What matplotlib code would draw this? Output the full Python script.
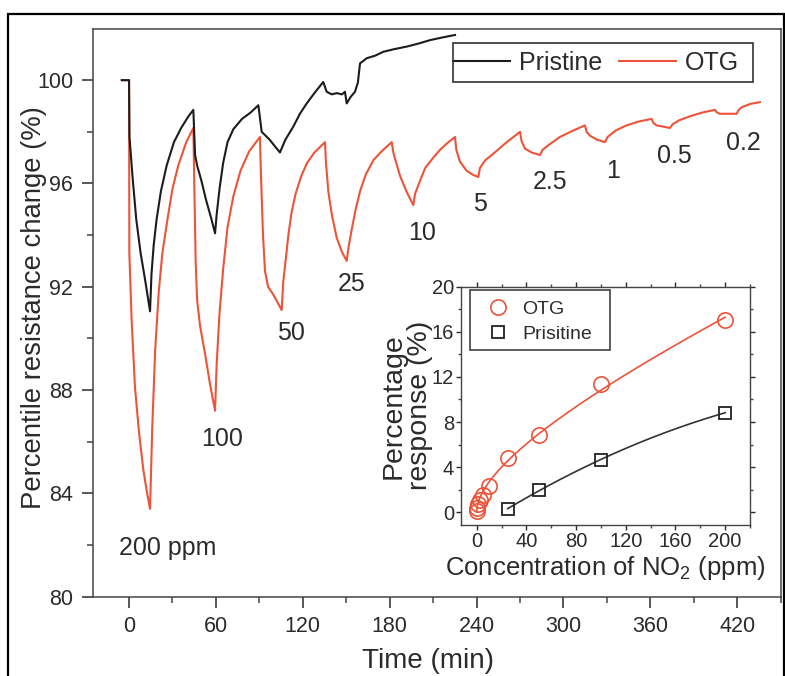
import numpy as np
import matplotlib
matplotlib.use("Agg")
import matplotlib.pyplot as plt
from matplotlib.patches import Rectangle
from matplotlib.ticker import MultipleLocator

plt.rcParams["font.family"] = ["Liberation Sans", "DejaVu Sans"]
plt.rcParams["mathtext.fontset"] = "custom"
plt.rcParams["mathtext.rm"] = "Liberation Sans"
plt.rcParams["mathtext.it"] = "Liberation Sans:italic"

RED = "#ee5338"
BLACK = "#1c1c1c"
TEXT = "#2b2b2b"
SPINE = "#444444"

# Transient response of the pristine film (time in min, resistance in %)
pristine_t = [-5, 0, 0.3, 2.5, 5, 8, 11, 14.5,
              15.5, 17, 19, 22, 26, 31, 36, 41, 44.4,
              45.6, 47, 50, 53, 56.5, 59.4,
              60.5, 62.5, 65, 68, 72, 78, 84, 89.3,
              91.6, 97, 104.2, 108, 113.4, 118, 122.7, 128, 134.1,
              136.5, 140, 143.4, 147, 149.1, 150.3, 153, 156, 158, 159.5,
              164.1, 170, 175.6, 183, 191.7, 200, 207.8, 216, 225.1]
pristine_r = [100, 100, 97.8, 96.2, 94.6, 93.3, 92.3, 91.05,
              92.5, 93.6, 94.6, 95.7, 96.7, 97.6, 98.15, 98.6, 98.85,
              97.1, 96.7, 96.1, 95.4, 94.7, 94.07,
              94.8, 95.8, 96.8, 97.6, 98.1, 98.5, 98.75, 99.03,
              98.0, 97.7, 97.2, 97.7, 98.2, 98.7, 99.1, 99.5, 99.93,
              99.55, 99.45, 99.5, 99.45, 99.55, 99.1, 99.35, 99.55, 99.9, 100.65,
              100.85, 100.95, 101.1, 101.2, 101.3, 101.42, 101.55, 101.65, 101.75]

# Transient response of the OTG film
otg_t = [-5, 0, 0.2, 1.8, 4.1, 7, 9.9, 12.5, 14.5,
         16, 18, 20.5, 23, 26.5, 30, 34, 39.5, 44.4,
         45.2, 46, 47, 49, 52.5, 56, 59.4,
         60.5, 62.5, 65, 68, 72, 77, 83, 90.4,
         91, 92.5, 93.9, 96, 99.6, 102.5, 105.4,
         106.5, 108.3, 110, 112.3, 115, 119, 123, 128, 135.3,
         136, 137.6, 140, 143.4, 147, 150.3,
         151.5, 153.7, 156.5, 159.5, 163.5, 168.7, 174.5, 181.4,
         182.5, 184.5, 187.1, 191.5, 196.3,
         197.5, 200.9, 204.5, 210.1, 214.7, 219.5, 225.1,
         226, 228.5, 233, 237, 241.2,
         242.3, 246, 251.5, 260.8, 270,
         271, 273.4, 278, 283.8,
         285.5, 290, 297.5, 306.7, 314.8,
         316, 318.3, 323, 328.6,
         330.5, 336, 343.6, 352, 360.9,
         362, 364.3, 373.5,
         375.5, 380, 387.3, 396, 404.6,
         406, 408, 419.6,
         421, 423, 429, 435.6]
otg_r = [100, 100, 93.3, 90.7, 88.1, 86.3, 84.9, 84.0, 83.4,
         86.5, 89.5, 91.8, 93.3, 94.6, 95.8, 96.7, 97.6, 98.15,
         95.5, 93.0, 91.5, 90.5, 89.4, 88.2, 87.2,
         89.0, 91.0, 92.7, 94.3, 95.5, 96.5, 97.25, 97.8,
         96.5, 94.0, 92.6, 92.0, 91.7, 91.4, 91.1,
         92.2, 93.1, 94.0, 94.9, 95.6, 96.3, 96.8, 97.2, 97.6,
         96.8, 95.7, 94.8, 93.9, 93.35, 93.0,
         93.5, 94.2, 95.0, 95.7, 96.35, 96.9, 97.25, 97.6,
         97.2, 96.8, 96.3, 95.7, 95.16,
         95.6, 96.1, 96.6, 97.0, 97.3, 97.55, 97.8,
         97.3, 96.85, 96.5, 96.35, 96.25,
         96.6, 96.9, 97.15, 97.6, 98.0,
         97.65, 97.35, 97.2, 97.1,
         97.3, 97.5, 97.8, 98.05, 98.25,
         98.0, 97.85, 97.7, 97.6,
         97.8, 98.05, 98.25, 98.4, 98.5,
         98.35, 98.25, 98.15,
         98.3, 98.45, 98.6, 98.75, 98.85,
         98.75, 98.7, 98.7,
         98.85, 98.95, 99.08, 99.15]

# Concentration labels placed beside each response valley
dose_labels = ["200 ppm", "100", "50", "25", "10", "5", "2.5", "1", "0.5", "0.2"]
dose_label_t = [27, 64, 111.5, 154, 202, 242.5, 291, 334, 376.5, 424.5]
dose_label_r = [81.9, 86.1, 90.2, 92.1, 94.1, 95.2, 96.05, 96.5, 97.05, 97.55]

# Calibration (inset)
otg_conc = [0.2, 0.5, 1, 2.5, 5, 10, 25, 50, 100, 200]
otg_resp = [0.15, 0.35, 0.7, 1.1, 1.5, 2.35, 4.8, 6.85, 11.35, 17.05]
pri_conc = [25, 50, 100, 200]
pri_resp = [0.27, 1.98, 4.64, 8.83]

W, H = 785, 676
fig = plt.figure(figsize=(W / 100, H / 100), dpi=100)


def fx(px):
    return px / W


def fy(py):
    return 1 - py / H


# outer frame
fig.add_artist(Rectangle((fx(8.3), -0.02), fx(775.5), fy(14) + 0.02,
                         transform=fig.transFigure, fill=False, lw=1.6, ec="black"))

ax = fig.add_axes([fx(92.7), fy(596.7), fx(688), (596.7 - 29.3) / H])
ax.plot(otg_t, otg_r, color=RED, lw=1.5, solid_joinstyle="round", label="OTG")
ax.plot(pristine_t, pristine_r, color=BLACK, lw=1.5, solid_joinstyle="round", label="Pristine")
ax.set_xlim(-25.1, 450)
ax.set_ylim(80, 101.97)
ax.xaxis.set_major_locator(MultipleLocator(60))
ax.xaxis.set_minor_locator(MultipleLocator(30))
ax.yaxis.set_major_locator(MultipleLocator(4))
ax.yaxis.set_minor_locator(MultipleLocator(2))
ax.tick_params(which="major", direction="out", length=8, width=1.1, labelsize=15.5,
               colors=TEXT, pad=6)
ax.tick_params(which="minor", direction="out", length=4.5, width=1.1, colors=SPINE)
for s in ax.spines.values():
    s.set_linewidth(1.1)
    s.set_color(SPINE)
ax.set_xlabel("Time (min)", fontsize=20, color=TEXT)
ax.set_ylabel("Percentile resistance change (%)", fontsize=19.8, color=TEXT)
ax.xaxis.set_label_coords(0.487, -0.09)
ax.yaxis.set_label_coords(-0.066, 0.51)

for lab, t, r in zip(dose_labels, dose_label_t, dose_label_r):
    ax.text(t, r, lab, fontsize=18, color=TEXT, ha="center", va="center")

h, l = ax.get_legend_handles_labels()
leg = ax.legend(h[::-1], l[::-1], ncol=2, loc="center left",
                bbox_to_anchor=(fx(452.7), fy(62.5)), bbox_transform=fig.transFigure,
                frameon=False, fontsize=18, handlelength=2.29,
                handletextpad=0.36, columnspacing=0.67, borderpad=0, borderaxespad=0)
for t in leg.get_texts():
    t.set_color(TEXT)
fig.add_artist(Rectangle((fx(452.7), fy(81.7)), fx(300.6), (81.7 - 43.3) / H,
                         transform=fig.transFigure, fill=False, lw=1.2, ec="#333333"))

# inset: calibration curves
ins = fig.add_axes([fx(461), fy(525), fx(289), (525 - 286.7) / H])
xf = np.linspace(0, max(otg_conc), 300)
basis = np.column_stack([np.sqrt(otg_conc), otg_conc])
coef, *_ = np.linalg.lstsq(basis, np.array(otg_resp), rcond=None)
ins.plot(xf, coef[0] * np.sqrt(xf) + coef[1] * xf, color=RED, lw=1.2)
xp = np.linspace(min(pri_conc), max(pri_conc), 200)
qcoef = np.polyfit(pri_conc, pri_resp, 2)
ins.plot(xp, np.polyval(qcoef, xp), color="#333333", lw=1.2)
ins.plot(otg_conc, otg_resp, "o", ms=11, mfc="none", mec=RED, mew=1.2, label="OTG")
ins.plot(pri_conc, pri_resp, "s", ms=9, mfc="none", mec="#222222", mew=1.3, label="Prisitine")
ins.set_xlim(-12.6, 220)
ins.set_ylim(-1.13, 20)
ins.xaxis.set_major_locator(MultipleLocator(40))
ins.xaxis.set_minor_locator(MultipleLocator(20))
ins.yaxis.set_major_locator(MultipleLocator(4))
ins.yaxis.set_minor_locator(MultipleLocator(2))
ins.tick_params(which="major", direction="out", length=3.5, width=1.0, labelsize=14.5,
                colors=TEXT, pad=1.5)
ins.tick_params(which="minor", direction="out", length=2.2, width=1.0, colors=SPINE)
ins.tick_params(which="both", right=True, top=True)
for s in ins.spines.values():
    s.set_linewidth(1.0)
    s.set_color(SPINE)
ins.set_xlabel("Concentration of NO$_2$ (ppm)", fontsize=18.5, color=TEXT, labelpad=2)
ins.set_ylabel("Percentage\nresponse (%)", fontsize=20.5, color=TEXT, labelpad=-1,
               linespacing=1.0)
ileg = ins.legend(loc="center left", bbox_to_anchor=(fx(481.7), fy(321.7)),
                  bbox_transform=fig.transFigure, frameon=False,
                  fontsize=14, handlelength=1.7, handletextpad=0.4, borderpad=0,
                  borderaxespad=0, labelspacing=0.4)
for t in ileg.get_texts():
    t.set_color(TEXT)
fig.add_artist(Rectangle((fx(470), fy(350)), fx(140), 60 / H,
                         transform=fig.transFigure, fill=False, lw=1.1, ec="#333333"))

fig.savefig("out.png", dpi=100)
